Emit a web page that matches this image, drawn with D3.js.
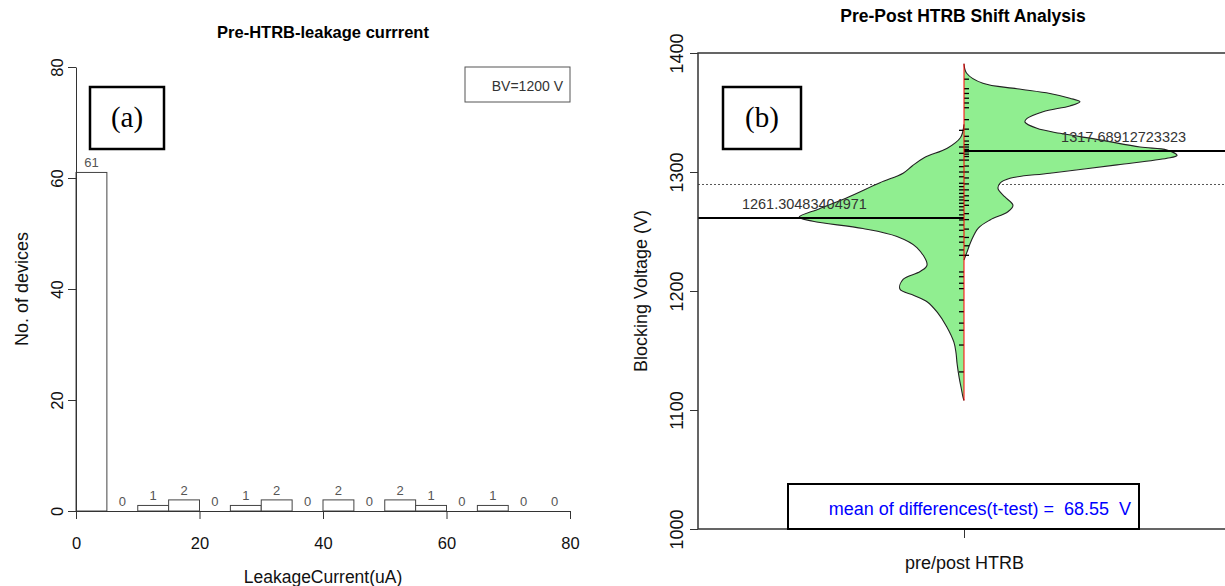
<!DOCTYPE html>
<html>
<head>
<meta charset="utf-8">
<title>HTRB leakage / shift</title>
<script src="https://cdn.jsdelivr.net/npm/d3@7"></script>
<style>
  body { margin: 0; background: #fff; }
  svg { display: block; font-family: "Liberation Sans", Arial, sans-serif; }
</style>
</head>
<body>
<svg id="chart"></svg>
<script>
  var width = 1225;
  var height = 586;

  // (a) histogram of pre-HTRB leakage current
  const binStart = [0, 5, 10, 15, 20, 25, 30, 35, 40, 45, 50, 55, 60, 65, 70, 75];
  const binEnd   = [5, 10, 15, 20, 25, 30, 35, 40, 45, 50, 55, 60, 65, 70, 75, 80];
  const counts   = [61, 0, 1, 2, 0, 1, 2, 0, 2, 0, 2, 1, 0, 1, 0, 0];
  const leakTicks = [0, 20, 40, 60, 80];
  const countTicks = [0, 20, 40, 60, 80];

  // (b) bean plot, half density widths (fraction of half plot width) at voltage
  const preV = [1340, 1329, 1320, 1312, 1305, 1299, 1291, 1278, 1269, 1262, 1258.6, 1252.5, 1245.8,
    1236.5, 1221.8, 1216.4, 1209.7, 1201.7, 1196.3, 1191, 1182, 1170, 1157, 1148, 1139, 1127, 1119, 1111, 1108];
  const preDens = [0, .013, .063, .150, .195, .229, .316, .444, .545, .620, .568, .380, .252,
    .177, .139, .165, .229, .241, .188, .139, .100, .065, .038, .030, .026, .018, .011, .004, 0];
  const postV = [1391, 1383, 1374.5, 1370, 1366, 1362, 1359, 1355.5, 1350.7, 1345, 1342, 1336.7, 1332.5,
    1327, 1321, 1318.5, 1314, 1311.5, 1306, 1299, 1294.7, 1290.5, 1286, 1279, 1272, 1266.6, 1259.7,
    1252.7, 1243, 1232, 1226];
  const postDens = [0, .010, .071, .199, .323, .398, .436, .398, .297, .237, .229, .274, .361,
    .511, .662, .763, .801, .763, .575, .323, .173, .135, .128, .154, .184, .165, .098,
    .053, .029, .010, 0];
  // individual device values (bean lines)
  const preValues = [1132, 1154.6, 1167, 1173, 1182.6, 1192.4, 1202, 1206.5, 1212, 1216, 1230, 1234.5,
    1241, 1245.6, 1251, 1255.5, 1259.7, 1264, 1268, 1270.8, 1273.7, 1276.5, 1279, 1282, 1285, 1287.7,
    1290.5, 1296, 1300, 1304.5, 1310, 1315.7, 1321, 1335];
  const postValues = [1230, 1238, 1245, 1252, 1260, 1265, 1272, 1276, 1280, 1285, 1290, 1295, 1300,
    1305, 1310, 1313, 1315, 1317, 1319, 1321, 1323, 1326, 1330, 1336, 1344, 1354, 1358, 1362, 1366,
    1370, 1378];
  const preMean = 1261.30483404971;
  const postMean = 1317.68912723323;
  const overallMean = 1289.5;
  const voltTicks = [1000, 1100, 1200, 1300, 1400];
  const groupName = ["pre/post HTRB"];

  var svg = d3.select("#chart")
    .attr("width", width)
    .attr("height", height);

  svg.append("rect").attr("width", width).attr("height", height).attr("fill", "#fff");

  // ---------- panel (a) ----------
  var x1 = d3.scaleLinear().domain([0, 80]).range([76, 570]);
  var y1 = d3.scaleLinear().domain([0, 80]).range([511, 67]);

  var pa = svg.append("g");

  pa.selectAll(".bar")
    .data(counts)
    .enter()
    .append("rect")
    .attr("class", "bar")
    .attr("x", (d, i) => x1(binStart[i]))
    .attr("width", (d, i) => x1(binEnd[i]) - x1(binStart[i]))
    .attr("y", d => y1(d))
    .attr("height", d => y1(0) - y1(d))
    .attr("fill", "#fff")
    .attr("stroke", "#444")
    .attr("stroke-width", 1);

  pa.selectAll(".cnt")
    .data(counts)
    .enter()
    .append("text")
    .attr("class", "cnt")
    .attr("x", (d, i) => x1((binStart[i] + binEnd[i]) / 2))
    .attr("y", d => y1(d) - 5)
    .attr("text-anchor", "middle")
    .attr("font-size", 13)
    .attr("fill", "#555")
    .text(d => d);

  var xAxA = pa.append("g")
    .attr("transform", "translate(0," + y1(0) + ")")
    .call(d3.axisBottom(x1).tickValues(leakTicks).tickSize(8).tickSizeOuter(0).tickPadding(18));
  xAxA.selectAll("text").attr("font-size", 16.5).attr("fill", "#111").attr("font-family", null);

  var yAxA = pa.append("g")
    .attr("transform", "translate(" + x1(0) + ",0)")
    .call(d3.axisLeft(y1).tickValues(countTicks).tickSize(8).tickSizeOuter(0));
  yAxA.selectAll("text")
    .attr("transform", "rotate(-90)")
    .attr("x", 0).attr("y", -19).attr("dy", "0.35em")
    .attr("text-anchor", "middle")
    .attr("font-size", 16.5).attr("fill", "#111").attr("font-family", null);

  [xAxA, yAxA].forEach(a => {
    a.selectAll("path,line").attr("stroke", "#333");
  });

  pa.append("text")
    .attr("x", 323).attr("y", 38)
    .attr("text-anchor", "middle")
    .attr("font-weight", "bold").attr("font-size", 16.5)
    .text("Pre-HTRB-leakage currrent");

  pa.append("text")
    .attr("x", 323).attr("y", 583)
    .attr("text-anchor", "middle")
    .attr("font-size", 17.5).attr("fill", "#111")
    .text("LeakageCurrent(uA)");

  pa.append("text")
    .attr("transform", "translate(28,289) rotate(-90)")
    .attr("text-anchor", "middle")
    .attr("font-size", 18).attr("fill", "#111")
    .text("No. of devices");

  // legend box
  pa.append("rect")
    .attr("x", 465).attr("y", 67).attr("width", 105).attr("height", 35)
    .attr("fill", "none").attr("stroke", "#555");
  pa.append("text")
    .attr("x", 563).attr("y", 91)
    .attr("text-anchor", "end")
    .attr("font-size", 14).attr("fill", "#333")
    .text("BV=1200 V");

  // (a) tag
  pa.append("rect")
    .attr("x", 90).attr("y", 87).attr("width", 74).attr("height", 62)
    .attr("fill", "none").attr("stroke", "#000").attr("stroke-width", 2.5);
  pa.append("text")
    .attr("x", 127).attr("y", 118).attr("dy", "0.32em")
    .attr("text-anchor", "middle")
    .attr("font-family", "'Liberation Serif', 'Times New Roman', serif")
    .attr("font-size", 29)
    .text("(a)");

  // ---------- panel (b) ----------
  var xB = d3.scaleLinear().domain([-1, 1]).range([698, 1230]);
  var yB = d3.scaleLinear().domain([1000, 1400]).range([529, 53]);
  var xGroup = d3.scalePoint().domain(groupName).range([698, 1230]).padding(0.5);

  var pb = svg.append("g");

  // grand mean (dotted)
  pb.append("line")
    .attr("x1", xB(-1)).attr("x2", xB(1))
    .attr("y1", yB(overallMean)).attr("y2", yB(overallMean))
    .attr("stroke", "#555").attr("stroke-dasharray", "2,2");

  var preArea = d3.area()
    .curve(d3.curveCatmullRom)
    .y((d, i) => yB(preV[i]))
    .x0(xB(0))
    .x1(d => xB(-d));

  var postArea = d3.area()
    .curve(d3.curveCatmullRom)
    .y((d, i) => yB(postV[i]))
    .x0(xB(0))
    .x1(d => xB(d));

  pb.append("path")
    .attr("d", preArea(preDens))
    .attr("fill", "#90ee90").attr("stroke", "none");
  pb.append("path")
    .attr("d", postArea(postDens))
    .attr("fill", "#90ee90").attr("stroke", "none");

  var preLine = d3.line().curve(d3.curveCatmullRom).y((d, i) => yB(preV[i])).x(d => xB(-d));
  var postLine = d3.line().curve(d3.curveCatmullRom).y((d, i) => yB(postV[i])).x(d => xB(d));
  pb.append("path").attr("d", preLine(preDens)).attr("fill", "none").attr("stroke", "#222").attr("stroke-width", 1.1);
  pb.append("path").attr("d", postLine(postDens)).attr("fill", "none").attr("stroke", "#222").attr("stroke-width", 1.1);

  // bean lines
  pb.selectAll(".preTick")
    .data(preValues).enter()
    .append("line")
    .attr("x1", xB(0) - 5).attr("x2", xB(0))
    .attr("y1", d => yB(d)).attr("y2", d => yB(d))
    .attr("stroke", "#000").attr("stroke-width", 1.3);
  pb.selectAll(".postTick")
    .data(postValues).enter()
    .append("line")
    .attr("x1", xB(0)).attr("x2", xB(0) + 5)
    .attr("y1", d => yB(d)).attr("y2", d => yB(d))
    .attr("stroke", "#000").attr("stroke-width", 1.3);

  // group means
  pb.append("line")
    .attr("x1", xB(-1)).attr("x2", xB(0))
    .attr("y1", yB(preMean)).attr("y2", yB(preMean))
    .attr("stroke", "#000").attr("stroke-width", 2);
  pb.append("line")
    .attr("x1", xB(0)).attr("x2", xB(1))
    .attr("y1", yB(postMean)).attr("y2", yB(postMean))
    .attr("stroke", "#000").attr("stroke-width", 2);

  // centre line
  pb.append("line")
    .attr("x1", xB(0)).attr("x2", xB(0))
    .attr("y1", yB(d3.min(preV))).attr("y2", yB(d3.max(postV)))
    .attr("stroke", "#ff0000").attr("stroke-width", 1);

  pb.append("text")
    .attr("x", xB(-0.6)).attr("y", yB(preMean) - 9)
    .attr("text-anchor", "middle")
    .attr("font-size", 14.5).attr("fill", "#333")
    .text(String(preMean));
  pb.append("text")
    .attr("x", xB(0.6)).attr("y", yB(postMean) - 9)
    .attr("text-anchor", "middle")
    .attr("font-size", 14.5).attr("fill", "#333")
    .text(String(postMean));

  // frame
  pb.append("rect")
    .attr("x", xB(-1)).attr("y", yB(1400))
    .attr("width", xB(1) - xB(-1)).attr("height", yB(1000) - yB(1400))
    .attr("fill", "none").attr("stroke", "#333").attr("stroke-width", 1.5);

  var yAxB = pb.append("g")
    .attr("transform", "translate(" + xB(-1) + ",0)")
    .call(d3.axisLeft(yB).tickValues(voltTicks).tickFormat(d3.format("d")).tickSize(8).tickSizeOuter(0));
  yAxB.select(".domain").remove();
  yAxB.selectAll("text")
    .attr("transform", "rotate(-90)")
    .attr("x", 0).attr("y", -21).attr("dy", "0.35em")
    .attr("text-anchor", "middle")
    .attr("font-size", 18).attr("fill", "#111").attr("font-family", null);

  var xAxB = pb.append("g")
    .attr("transform", "translate(0," + yB(1000) + ")")
    .call(d3.axisBottom(xGroup).tickSize(9).tickSizeOuter(0).tickPadding(18));
  xAxB.select(".domain").remove();
  xAxB.selectAll("text").attr("font-size", 18).attr("fill", "#111").attr("font-family", null);
  [xAxB, yAxB].forEach(a => a.selectAll("line").attr("stroke", "#333"));

  pb.append("text")
    .attr("x", 963).attr("y", 22)
    .attr("text-anchor", "middle")
    .attr("font-weight", "bold").attr("font-size", 17.5)
    .text("Pre-Post HTRB Shift Analysis");

  pb.append("text")
    .attr("transform", "translate(647,291) rotate(-90)")
    .attr("text-anchor", "middle")
    .attr("font-size", 18).attr("fill", "#111")
    .text("Blocking Voltage (V)");

  // (b) tag
  pb.append("rect")
    .attr("x", 723).attr("y", 87).attr("width", 78).attr("height", 62)
    .attr("fill", "none").attr("stroke", "#000").attr("stroke-width", 2.5);
  pb.append("text")
    .attr("x", 762).attr("y", 118).attr("dy", "0.32em")
    .attr("text-anchor", "middle")
    .attr("font-family", "'Liberation Serif', 'Times New Roman', serif")
    .attr("font-size", 29)
    .text("(b)");

  // t-test box
  pb.append("rect")
    .attr("x", 788).attr("y", 484).attr("width", 351).attr("height", 45)
    .attr("fill", "#fff").attr("stroke", "#000").attr("stroke-width", 2);
  pb.append("text")
    .attr("x", 1131).attr("y", 515)
    .attr("text-anchor", "end")
    .attr("font-size", 18).attr("fill", "#0000ff")
    .style("white-space", "pre")
    .text("mean of differences(t-test) =  68.55  V");
</script>
</body>
</html>
